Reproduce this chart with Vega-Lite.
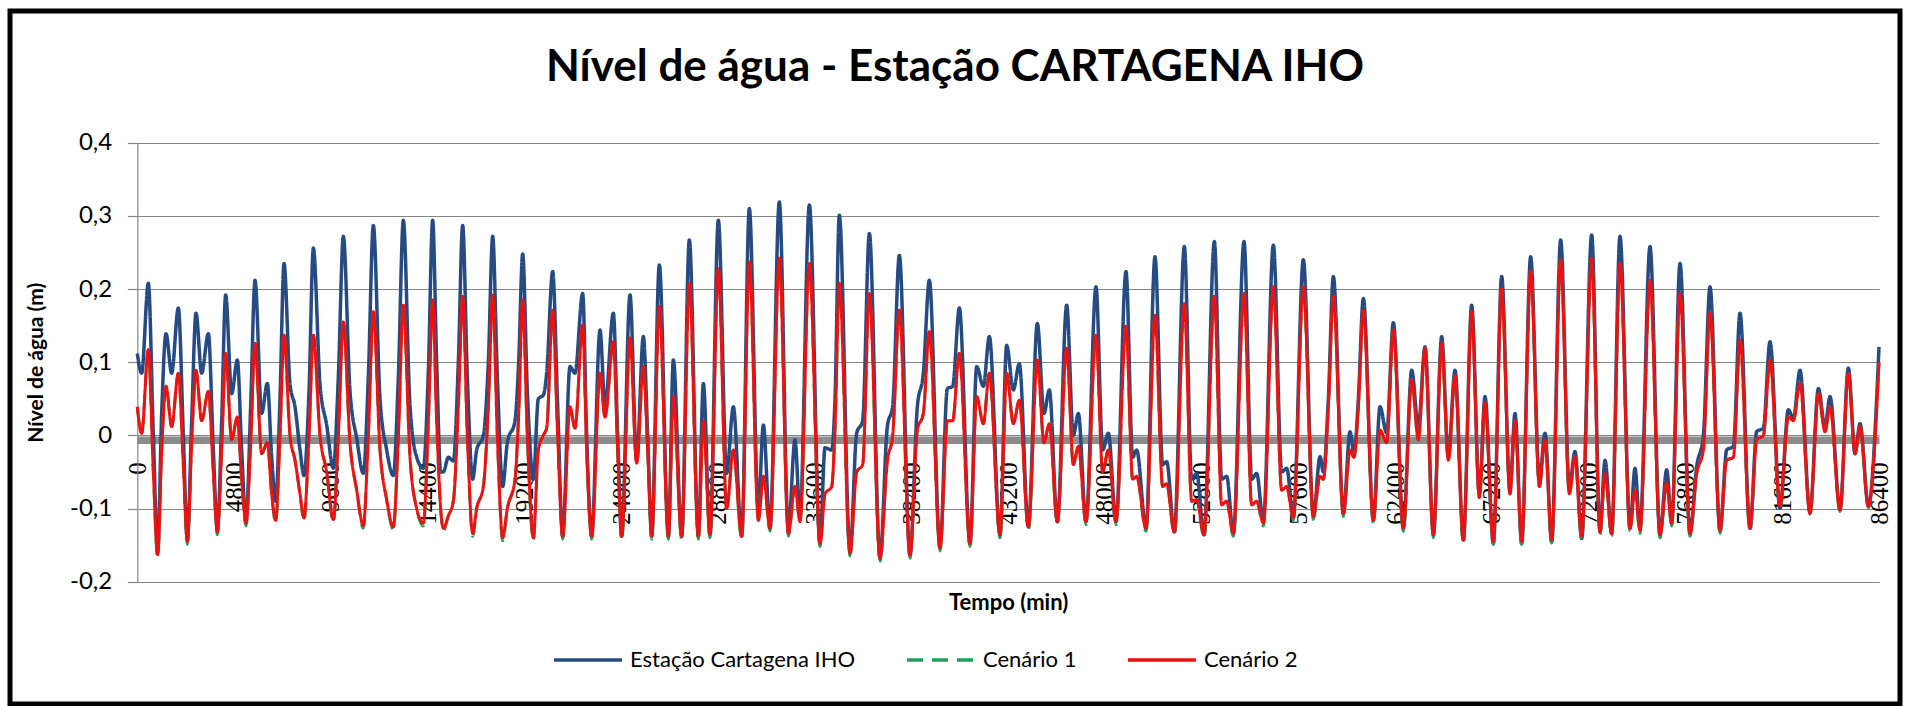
{
  "$schema": "https://vega.github.io/schema/vega-lite/v6.json",
  "autosize": "none",
  "width": 1890,
  "height": 693,
  "padding": {"left": 10, "top": 11, "right": 5, "bottom": 2},
  "background": "white",
  "config": {
    "view": {"stroke": "#000000", "strokeWidth": 5},
    "font": "Lato"
  },
  "title": {
    "text": "Nível de água - Estação CARTAGENA IHO",
    "font": "Lato", "fontSize": 44, "fontWeight": "bold", "color": "#000000",
    "anchor": "middle", "frame": "group", "offset": 0, "baseline": "middle", "dy": 101
  },
  "datasets": {
    "tide": [
      {"t":0,"obs":0.112,"c1":0.039,"c2":0.039},
      {"t":217,"obs":0.085,"c1":0.003,"c2":0.003},
      {"t":547,"obs":0.208,"c1":0.117,"c2":0.117},
      {"t":796,"obs":0.0,"c1":-0.05,"c2":-0.05},
      {"t":1010,"obs":-0.16,"c1":-0.167,"c2":-0.163},
      {"t":1209,"obs":0.03,"c1":-0.02,"c2":-0.02},
      {"t":1424,"obs":0.139,"c1":0.067,"c2":0.067},
      {"t":1705,"obs":0.085,"c1":0.012,"c2":0.012},
      {"t":2036,"obs":0.174,"c1":0.085,"c2":0.085},
      {"t":2284,"obs":0.0,"c1":-0.04,"c2":-0.04},
      {"t":2482,"obs":-0.143,"c1":-0.149,"c2":-0.145},
      {"t":2697,"obs":0.02,"c1":-0.01,"c2":-0.01},
      {"t":2912,"obs":0.167,"c1":0.089,"c2":0.089},
      {"t":3193,"obs":0.085,"c1":0.02,"c2":0.02},
      {"t":3524,"obs":0.139,"c1":0.06,"c2":0.06},
      {"t":3772,"obs":-0.02,"c1":-0.05,"c2":-0.05},
      {"t":3970,"obs":-0.13,"c1":-0.136,"c2":-0.132},
      {"t":4185,"obs":0.02,"c1":-0.02,"c2":-0.02},
      {"t":4384,"obs":0.192,"c1":0.112,"c2":0.112},
      {"t":4681,"obs":0.057,"c1":-0.006,"c2":-0.006},
      {"t":4962,"obs":0.103,"c1":0.025,"c2":0.025},
      {"t":5177,"obs":-0.02,"c1":-0.06,"c2":-0.06},
      {"t":5393,"obs":-0.118,"c1":-0.124,"c2":-0.12},
      {"t":5624,"obs":0.04,"c1":-0.01,"c2":-0.01},
      {"t":5839,"obs":0.212,"c1":0.126,"c2":0.126},
      {"t":6170,"obs":0.03,"c1":-0.025,"c2":-0.025},
      {"t":6451,"obs":0.071,"c1":-0.01,"c2":-0.01},
      {"t":6666,"obs":-0.03,"c1":-0.08,"c2":-0.08},
      {"t":6864,"obs":-0.09,"c1":-0.12,"c2":-0.116},
      {"t":7079,"obs":0.05,"c1":0.0,"c2":0.0},
      {"t":7278,"obs":0.235,"c1":0.137,"c2":0.137},
      {"t":7575,"obs":0.07,"c1":0.0,"c2":0.0},
      {"t":7823,"obs":0.039,"c1":-0.034,"c2":-0.034},
      {"t":8071,"obs":-0.02,"c1":-0.08,"c2":-0.08},
      {"t":8270,"obs":-0.055,"c1":-0.117,"c2":-0.113},
      {"t":8518,"obs":0.06,"c1":0.0,"c2":0.0},
      {"t":8733,"obs":0.256,"c1":0.137,"c2":0.137},
      {"t":9063,"obs":0.07,"c1":0.0,"c2":0.0},
      {"t":9394,"obs":0.014,"c1":-0.05,"c2":-0.05},
      {"t":9725,"obs":-0.045,"c1":-0.119,"c2":-0.115},
      {"t":9973,"obs":0.08,"c1":0.0,"c2":0.0},
      {"t":10221,"obs":0.272,"c1":0.155,"c2":0.155},
      {"t":10552,"obs":0.06,"c1":-0.01,"c2":-0.01},
      {"t":10883,"obs":-0.004,"c1":-0.075,"c2":-0.075},
      {"t":11213,"obs":-0.052,"c1":-0.127,"c2":-0.123},
      {"t":11461,"obs":0.08,"c1":0.0,"c2":0.0},
      {"t":11709,"obs":0.287,"c1":0.169,"c2":0.169},
      {"t":12040,"obs":0.05,"c1":-0.02,"c2":-0.02},
      {"t":12371,"obs":-0.02,"c1":-0.088,"c2":-0.088},
      {"t":12702,"obs":-0.055,"c1":-0.129,"c2":-0.125},
      {"t":12950,"obs":0.08,"c1":0.0,"c2":0.0},
      {"t":13197,"obs":0.294,"c1":0.178,"c2":0.178},
      {"t":13528,"obs":0.04,"c1":-0.03,"c2":-0.03},
      {"t":13859,"obs":-0.03,"c1":-0.1,"c2":-0.1},
      {"t":14190,"obs":-0.045,"c1":-0.124,"c2":-0.12},
      {"t":14440,"obs":0.09,"c1":0.02,"c2":0.02},
      {"t":14652,"obs":0.294,"c1":0.185,"c2":0.185},
      {"t":14851,"obs":0.1,"c1":0.02,"c2":0.02},
      {"t":15049,"obs":-0.05,"c1":-0.1,"c2":-0.1},
      {"t":15182,"obs":-0.05,"c1":-0.131,"c2":-0.127},
      {"t":15430,"obs":-0.03,"c1":-0.11,"c2":-0.11},
      {"t":15678,"obs":-0.035,"c1":-0.09,"c2":-0.09},
      {"t":15926,"obs":0.1,"c1":0.04,"c2":0.04},
      {"t":16140,"obs":0.287,"c1":0.19,"c2":0.19},
      {"t":16372,"obs":0.08,"c1":0.0,"c2":0.0},
      {"t":16637,"obs":-0.06,"c1":-0.138,"c2":-0.134},
      {"t":16835,"obs":-0.02,"c1":-0.1,"c2":-0.1},
      {"t":17166,"obs":0.0,"c1":-0.07,"c2":-0.07},
      {"t":17414,"obs":0.1,"c1":0.04,"c2":0.04},
      {"t":17629,"obs":0.272,"c1":0.192,"c2":0.192},
      {"t":17860,"obs":0.08,"c1":0.0,"c2":0.0},
      {"t":18125,"obs":-0.07,"c1":-0.144,"c2":-0.14},
      {"t":18356,"obs":-0.01,"c1":-0.1,"c2":-0.1},
      {"t":18737,"obs":0.02,"c1":-0.06,"c2":-0.06},
      {"t":18919,"obs":0.1,"c1":0.03,"c2":0.03},
      {"t":19117,"obs":0.248,"c1":0.185,"c2":0.185},
      {"t":19349,"obs":0.06,"c1":0.0,"c2":0.0},
      {"t":19646,"obs":-0.06,"c1":-0.144,"c2":-0.14},
      {"t":19894,"obs":0.05,"c1":-0.02,"c2":-0.02},
      {"t":20142,"obs":0.055,"c1":0.0,"c2":0.0},
      {"t":20308,"obs":0.085,"c1":0.01,"c2":0.01},
      {"t":20605,"obs":0.224,"c1":0.171,"c2":0.171},
      {"t":20853,"obs":0.04,"c1":0.0,"c2":0.0},
      {"t":21101,"obs":-0.138,"c1":-0.142,"c2":-0.138},
      {"t":21465,"obs":0.094,"c1":0.039,"c2":0.039},
      {"t":21713,"obs":0.085,"c1":0.01,"c2":0.01},
      {"t":22094,"obs":0.194,"c1":0.151,"c2":0.151},
      {"t":22292,"obs":0.0,"c1":-0.02,"c2":-0.02},
      {"t":22540,"obs":-0.138,"c1":-0.142,"c2":-0.138},
      {"t":22953,"obs":0.144,"c1":0.085,"c2":0.085},
      {"t":23202,"obs":0.039,"c1":0.025,"c2":0.025},
      {"t":23615,"obs":0.167,"c1":0.128,"c2":0.128},
      {"t":23830,"obs":0.0,"c1":-0.02,"c2":-0.02},
      {"t":24028,"obs":-0.138,"c1":-0.142,"c2":-0.138},
      {"t":24442,"obs":0.192,"c1":0.133,"c2":0.133},
      {"t":24772,"obs":-0.034,"c1":-0.038,"c2":-0.038},
      {"t":25103,"obs":0.135,"c1":0.094,"c2":0.094},
      {"t":25318,"obs":0.0,"c1":-0.02,"c2":-0.02},
      {"t":25517,"obs":-0.138,"c1":-0.142,"c2":-0.138},
      {"t":25897,"obs":0.233,"c1":0.176,"c2":0.176},
      {"t":26344,"obs":-0.138,"c1":-0.142,"c2":-0.138},
      {"t":26592,"obs":0.103,"c1":0.053,"c2":0.053},
      {"t":27005,"obs":-0.138,"c1":-0.142,"c2":-0.138},
      {"t":27385,"obs":0.267,"c1":0.208,"c2":0.208},
      {"t":27832,"obs":-0.138,"c1":-0.142,"c2":-0.138},
      {"t":28080,"obs":0.071,"c1":0.019,"c2":0.019},
      {"t":28410,"obs":-0.136,"c1":-0.14,"c2":-0.136},
      {"t":28824,"obs":0.294,"c1":0.228,"c2":0.228},
      {"t":29237,"obs":-0.052,"c1":-0.1,"c2":-0.1},
      {"t":29568,"obs":0.039,"c1":-0.02,"c2":-0.02},
      {"t":29981,"obs":-0.138,"c1":-0.142,"c2":-0.138},
      {"t":30361,"obs":0.31,"c1":0.237,"c2":0.237},
      {"t":30808,"obs":-0.1,"c1":-0.116,"c2":-0.116},
      {"t":31056,"obs":0.014,"c1":-0.056,"c2":-0.056},
      {"t":31387,"obs":-0.127,"c1":-0.131,"c2":-0.127},
      {"t":31849,"obs":0.319,"c1":0.242,"c2":0.242},
      {"t":32296,"obs":-0.13,"c1":-0.138,"c2":-0.134},
      {"t":32627,"obs":-0.006,"c1":-0.07,"c2":-0.07},
      {"t":32875,"obs":-0.11,"c1":-0.118,"c2":-0.118},
      {"t":33338,"obs":0.315,"c1":0.235,"c2":0.235},
      {"t":33867,"obs":-0.148,"c1":-0.152,"c2":-0.148},
      {"t":34115,"obs":-0.017,"c1":-0.08,"c2":-0.08},
      {"t":34446,"obs":-0.02,"c1":-0.07,"c2":-0.07},
      {"t":34611,"obs":0.05,"c1":0.01,"c2":0.01},
      {"t":34826,"obs":0.301,"c1":0.208,"c2":0.208},
      {"t":35355,"obs":-0.16,"c1":-0.165,"c2":-0.161},
      {"t":35686,"obs":0.003,"c1":-0.05,"c2":-0.05},
      {"t":35984,"obs":0.02,"c1":-0.04,"c2":-0.04},
      {"t":36314,"obs":0.276,"c1":0.194,"c2":0.194},
      {"t":36843,"obs":-0.168,"c1":-0.172,"c2":-0.168},
      {"t":37207,"obs":0.012,"c1":-0.035,"c2":-0.035},
      {"t":37472,"obs":0.04,"c1":0.0,"c2":0.0},
      {"t":37802,"obs":0.246,"c1":0.171,"c2":0.171},
      {"t":38331,"obs":-0.164,"c1":-0.168,"c2":-0.164},
      {"t":38695,"obs":0.039,"c1":0.007,"c2":0.007},
      {"t":38993,"obs":0.085,"c1":0.03,"c2":0.03},
      {"t":39291,"obs":0.212,"c1":0.142,"c2":0.142},
      {"t":39820,"obs":-0.154,"c1":-0.158,"c2":-0.154},
      {"t":40184,"obs":0.064,"c1":0.02,"c2":0.02},
      {"t":40448,"obs":0.067,"c1":0.02,"c2":0.02},
      {"t":40779,"obs":0.174,"c1":0.112,"c2":0.112},
      {"t":41308,"obs":-0.148,"c1":-0.152,"c2":-0.148},
      {"t":41639,"obs":0.094,"c1":0.053,"c2":0.053},
      {"t":41970,"obs":0.067,"c1":0.016,"c2":0.016},
      {"t":42267,"obs":0.135,"c1":0.085,"c2":0.085},
      {"t":42796,"obs":-0.136,"c1":-0.14,"c2":-0.136},
      {"t":43127,"obs":0.123,"c1":0.085,"c2":0.085},
      {"t":43457,"obs":0.062,"c1":0.016,"c2":0.016},
      {"t":43755,"obs":0.098,"c1":0.048,"c2":0.048},
      {"t":44202,"obs":-0.125,"c1":-0.129,"c2":-0.125},
      {"t":44648,"obs":0.153,"c1":0.103,"c2":0.103},
      {"t":44979,"obs":0.03,"c1":-0.01,"c2":-0.01},
      {"t":45243,"obs":0.062,"c1":0.016,"c2":0.016},
      {"t":45640,"obs":-0.118,"c1":-0.122,"c2":-0.118},
      {"t":46103,"obs":0.178,"c1":0.119,"c2":0.119},
      {"t":46434,"obs":0.0,"c1":-0.04,"c2":-0.04},
      {"t":46682,"obs":0.03,"c1":-0.015,"c2":-0.015},
      {"t":47062,"obs":-0.118,"c1":-0.122,"c2":-0.118},
      {"t":47558,"obs":0.203,"c1":0.137,"c2":0.137},
      {"t":47889,"obs":-0.02,"c1":-0.05,"c2":-0.05},
      {"t":48170,"obs":0.003,"c1":-0.02,"c2":-0.02},
      {"t":48550,"obs":-0.118,"c1":-0.122,"c2":-0.118},
      {"t":49046,"obs":0.224,"c1":0.149,"c2":0.149},
      {"t":49377,"obs":-0.03,"c1":-0.06,"c2":-0.06},
      {"t":49576,"obs":-0.02,"c1":-0.056,"c2":-0.056},
      {"t":50039,"obs":-0.127,"c1":-0.131,"c2":-0.127},
      {"t":50485,"obs":0.244,"c1":0.164,"c2":0.164},
      {"t":50866,"obs":-0.04,"c1":-0.07,"c2":-0.07},
      {"t":51064,"obs":-0.036,"c1":-0.066,"c2":-0.066},
      {"t":51444,"obs":-0.132,"c1":-0.136,"c2":-0.132},
      {"t":51940,"obs":0.258,"c1":0.18,"c2":0.18},
      {"t":52304,"obs":-0.06,"c1":-0.09,"c2":-0.09},
      {"t":52552,"obs":-0.052,"c1":-0.088,"c2":-0.088},
      {"t":52916,"obs":-0.136,"c1":-0.14,"c2":-0.136},
      {"t":53429,"obs":0.265,"c1":0.19,"c2":0.19},
      {"t":53792,"obs":-0.06,"c1":-0.095,"c2":-0.095},
      {"t":54040,"obs":-0.056,"c1":-0.09,"c2":-0.09},
      {"t":54371,"obs":-0.134,"c1":-0.138,"c2":-0.134},
      {"t":54900,"obs":0.265,"c1":0.194,"c2":0.194},
      {"t":55281,"obs":-0.06,"c1":-0.095,"c2":-0.095},
      {"t":55529,"obs":-0.052,"c1":-0.09,"c2":-0.09},
      {"t":55860,"obs":-0.118,"c1":-0.124,"c2":-0.12},
      {"t":56356,"obs":0.26,"c1":0.203,"c2":0.203},
      {"t":56769,"obs":-0.05,"c1":-0.075,"c2":-0.075},
      {"t":57017,"obs":-0.045,"c1":-0.07,"c2":-0.07},
      {"t":57347,"obs":-0.112,"c1":-0.116,"c2":-0.112},
      {"t":57843,"obs":0.24,"c1":0.203,"c2":0.203},
      {"t":58340,"obs":-0.111,"c1":-0.115,"c2":-0.111},
      {"t":58670,"obs":-0.029,"c1":-0.056,"c2":-0.056},
      {"t":58836,"obs":-0.05,"c1":-0.06,"c2":-0.06},
      {"t":59084,"obs":0.05,"c1":0.04,"c2":0.04},
      {"t":59332,"obs":0.217,"c1":0.19,"c2":0.19},
      {"t":59828,"obs":-0.107,"c1":-0.111,"c2":-0.107},
      {"t":60159,"obs":0.005,"c1":-0.02,"c2":-0.02},
      {"t":60357,"obs":-0.025,"c1":-0.03,"c2":-0.03},
      {"t":60572,"obs":0.05,"c1":0.04,"c2":0.04},
      {"t":60820,"obs":0.187,"c1":0.171,"c2":0.171},
      {"t":61316,"obs":-0.116,"c1":-0.12,"c2":-0.116},
      {"t":61647,"obs":0.039,"c1":0.007,"c2":0.007},
      {"t":61977,"obs":0.003,"c1":-0.01,"c2":-0.01},
      {"t":62308,"obs":0.154,"c1":0.144,"c2":0.144},
      {"t":62804,"obs":-0.127,"c1":-0.131,"c2":-0.127},
      {"t":63218,"obs":0.089,"c1":0.076,"c2":0.076},
      {"t":63548,"obs":0.012,"c1":-0.006,"c2":-0.006},
      {"t":63879,"obs":0.121,"c1":0.119,"c2":0.119},
      {"t":64293,"obs":-0.136,"c1":-0.14,"c2":-0.136},
      {"t":64706,"obs":0.135,"c1":0.126,"c2":0.126},
      {"t":65037,"obs":-0.029,"c1":-0.034,"c2":-0.034},
      {"t":65367,"obs":0.089,"c1":0.082,"c2":0.082},
      {"t":65781,"obs":-0.143,"c1":-0.147,"c2":-0.143},
      {"t":66194,"obs":0.178,"c1":0.169,"c2":0.169},
      {"t":66574,"obs":-0.08,"c1":-0.085,"c2":-0.085},
      {"t":66855,"obs":0.053,"c1":0.045,"c2":0.045},
      {"t":67269,"obs":-0.148,"c1":-0.149,"c2":-0.145},
      {"t":67682,"obs":0.217,"c1":0.2,"c2":0.2},
      {"t":68095,"obs":-0.075,"c1":-0.08,"c2":-0.08},
      {"t":68344,"obs":0.03,"c1":0.02,"c2":0.02},
      {"t":68674,"obs":-0.148,"c1":-0.149,"c2":-0.145},
      {"t":69121,"obs":0.244,"c1":0.225,"c2":0.225},
      {"t":69551,"obs":-0.06,"c1":-0.07,"c2":-0.07},
      {"t":69832,"obs":0.003,"c1":-0.006,"c2":-0.006},
      {"t":70163,"obs":-0.146,"c1":-0.147,"c2":-0.143},
      {"t":70609,"obs":0.267,"c1":0.24,"c2":0.24},
      {"t":71039,"obs":-0.07,"c1":-0.08,"c2":-0.08},
      {"t":71320,"obs":-0.022,"c1":-0.029,"c2":-0.029},
      {"t":71651,"obs":-0.141,"c1":-0.142,"c2":-0.138},
      {"t":72147,"obs":0.274,"c1":0.242,"c2":0.242},
      {"t":72560,"obs":-0.132,"c1":-0.136,"c2":-0.132},
      {"t":72808,"obs":-0.034,"c1":-0.052,"c2":-0.052},
      {"t":73139,"obs":-0.134,"c1":-0.138,"c2":-0.134},
      {"t":73552,"obs":0.272,"c1":0.235,"c2":0.235},
      {"t":74048,"obs":-0.127,"c1":-0.131,"c2":-0.127},
      {"t":74296,"obs":-0.045,"c1":-0.075,"c2":-0.075},
      {"t":74544,"obs":-0.127,"c1":-0.134,"c2":-0.13},
      {"t":75040,"obs":0.258,"c1":0.212,"c2":0.212},
      {"t":75537,"obs":-0.136,"c1":-0.14,"c2":-0.136},
      {"t":75868,"obs":-0.047,"c1":-0.065,"c2":-0.065},
      {"t":76116,"obs":-0.12,"c1":-0.124,"c2":-0.12},
      {"t":76529,"obs":0.235,"c1":0.194,"c2":0.194},
      {"t":77025,"obs":-0.134,"c1":-0.138,"c2":-0.134},
      {"t":77356,"obs":-0.043,"c1":-0.052,"c2":-0.052},
      {"t":77686,"obs":0.0,"c1":-0.02,"c2":-0.02},
      {"t":78017,"obs":0.203,"c1":0.167,"c2":0.167},
      {"t":78513,"obs":-0.13,"c1":-0.134,"c2":-0.13},
      {"t":78844,"obs":-0.02,"c1":-0.034,"c2":-0.034},
      {"t":79175,"obs":-0.015,"c1":-0.03,"c2":-0.03},
      {"t":79505,"obs":0.167,"c1":0.13,"c2":0.13},
      {"t":80001,"obs":-0.127,"c1":-0.131,"c2":-0.127},
      {"t":80332,"obs":0.005,"c1":-0.006,"c2":-0.006},
      {"t":80663,"obs":0.01,"c1":0.0,"c2":0.0},
      {"t":80994,"obs":0.128,"c1":0.103,"c2":0.103},
      {"t":81490,"obs":-0.1,"c1":-0.1,"c2":-0.097},
      {"t":81903,"obs":0.035,"c1":0.025,"c2":0.025},
      {"t":82151,"obs":0.023,"c1":0.02,"c2":0.02},
      {"t":82482,"obs":0.089,"c1":0.071,"c2":0.071},
      {"t":82978,"obs":-0.105,"c1":-0.108,"c2":-0.107},
      {"t":83392,"obs":0.064,"c1":0.057,"c2":0.057},
      {"t":83722,"obs":0.012,"c1":0.005,"c2":0.005},
      {"t":83970,"obs":0.053,"c1":0.039,"c2":0.039},
      {"t":84466,"obs":-0.102,"c1":-0.104,"c2":-0.102},
      {"t":84880,"obs":0.092,"c1":0.085,"c2":0.085},
      {"t":85211,"obs":-0.025,"c1":-0.025,"c2":-0.025},
      {"t":85459,"obs":0.016,"c1":0.012,"c2":0.012},
      {"t":85872,"obs":-0.097,"c1":-0.099,"c2":-0.097},
      {"t":86400,"obs":0.121,"c1":0.1,"c2":0.1}
    ]
  },
  "data": {"name": "tide"},
  "transform": [{"fold": ["obs", "c1", "c2"], "as": ["serie", "nivel"]}],
  "encoding": {
    "x": {
      "field": "t", "type": "quantitative",
      "scale": {"domain": [0, 86400], "range": [127.3, 1869], "nice": false, "zero": false},
      "axis": {
        "title": "Tempo (min)", "titleFont": "Lato", "titleFontSize": 22, "titleFontWeight": "bold", "titleColor": "#000000",
        "titleY": 163, "titleBaseline": "middle",
        "offset": -264.25,
        "values": [0, 4800, 9600, 14400, 19200, 24000, 28800, 33600, 38400, 43200, 48000, 52800, 57600, 62400, 67200, 72000, 76800, 81600, 86400],
        "format": "d",
        "labelAngle": -90, "labelFont": "Liberation Serif", "labelFontSize": 25, "labelColor": "#000000",
        "labelPadding": 22, "labelOverlap": false, "labelFlush": false, "labelBound": false,
        "ticks": false, "domainColor": "#8C8C8C", "domainWidth": 7.5, "grid": false
      }
    },
    "y": {
      "field": "nivel", "type": "quantitative",
      "scale": {"domain": [-0.2, 0.4], "range": [570.7, 131.7], "nice": false, "zero": false},
      "axis": {
        "title": "Nível de água (m)", "titleFont": "Lato", "titleFontSize": 21, "titleFontWeight": "bold", "titleColor": "#000000",
        "titleX": -101, "titleBaseline": "middle",
        "offset": -127.3,
        "values": [-0.2, -0.1, 0, 0.1, 0.2, 0.3, 0.4],
        "labelExpr": "datum.value === 0 ? '0' : replace('' + datum.value, '.', ',')",
        "labelFont": "Lato", "labelFontSize": 24, "labelColor": "#000000", "labelPadding": 15.6,
        "tickSize": 10, "tickColor": "#868686", "tickWidth": 1.2,
        "domainColor": "#868686", "domainWidth": 1.2,
        "grid": true, "gridColor": "#868686", "gridWidth": 1.2
      }
    },
    "color": {
      "field": "serie", "type": "nominal",
      "scale": {"domain": ["obs", "c1", "c2"], "range": ["#254B82", "#1FA05A", "#EE1111"]},
      "legend": {
        "title": null, "orient": "none", "legendX": 542, "legendY": 613, "direction": "horizontal",
        "symbolType": "stroke", "symbolSize": 4624, "symbolStrokeWidth": 3.5,
        "labelFont": "Lato", "labelFontSize": 22, "labelColor": "#000000", "labelOffset": 6, "labelLimit": 600,
        "columnPadding": 44, "padding": 0,
        "labelExpr": "datum.label === 'obs' ? 'Estação Cartagena IHO' : datum.label === 'c1' ? 'Cenário 1' : 'Cenário 2'"
      }
    },
    "strokeDash": {
      "field": "serie", "type": "nominal",
      "scale": {"domain": ["obs", "c1", "c2"], "range": [[1, 0], [16, 9], [1, 0]]},
      "legend": {
        "title": null, "orient": "none", "legendX": 542, "legendY": 613, "direction": "horizontal",
        "symbolType": "stroke", "symbolSize": 4624, "symbolStrokeWidth": 3.5,
        "labelFont": "Lato", "labelFontSize": 22, "labelColor": "#000000", "labelOffset": 6, "labelLimit": 600,
        "columnPadding": 44, "padding": 0,
        "labelExpr": "datum.label === 'obs' ? 'Estação Cartagena IHO' : datum.label === 'c1' ? 'Cenário 1' : 'Cenário 2'"
      }
    }
  },
  "layer": [
    {"transform": [{"filter": "datum.serie === 'obs'"}], "mark": {"type": "line", "strokeWidth": 3.5, "strokeJoin": "round", "interpolate": "monotone"}},
    {"transform": [{"filter": "datum.serie === 'c1'"}], "mark": {"type": "line", "strokeWidth": 3, "strokeJoin": "round", "interpolate": "monotone"}},
    {"transform": [{"filter": "datum.serie === 'c2'"}], "mark": {"type": "line", "strokeWidth": 3, "strokeJoin": "round", "interpolate": "monotone"}}
  ]
}
